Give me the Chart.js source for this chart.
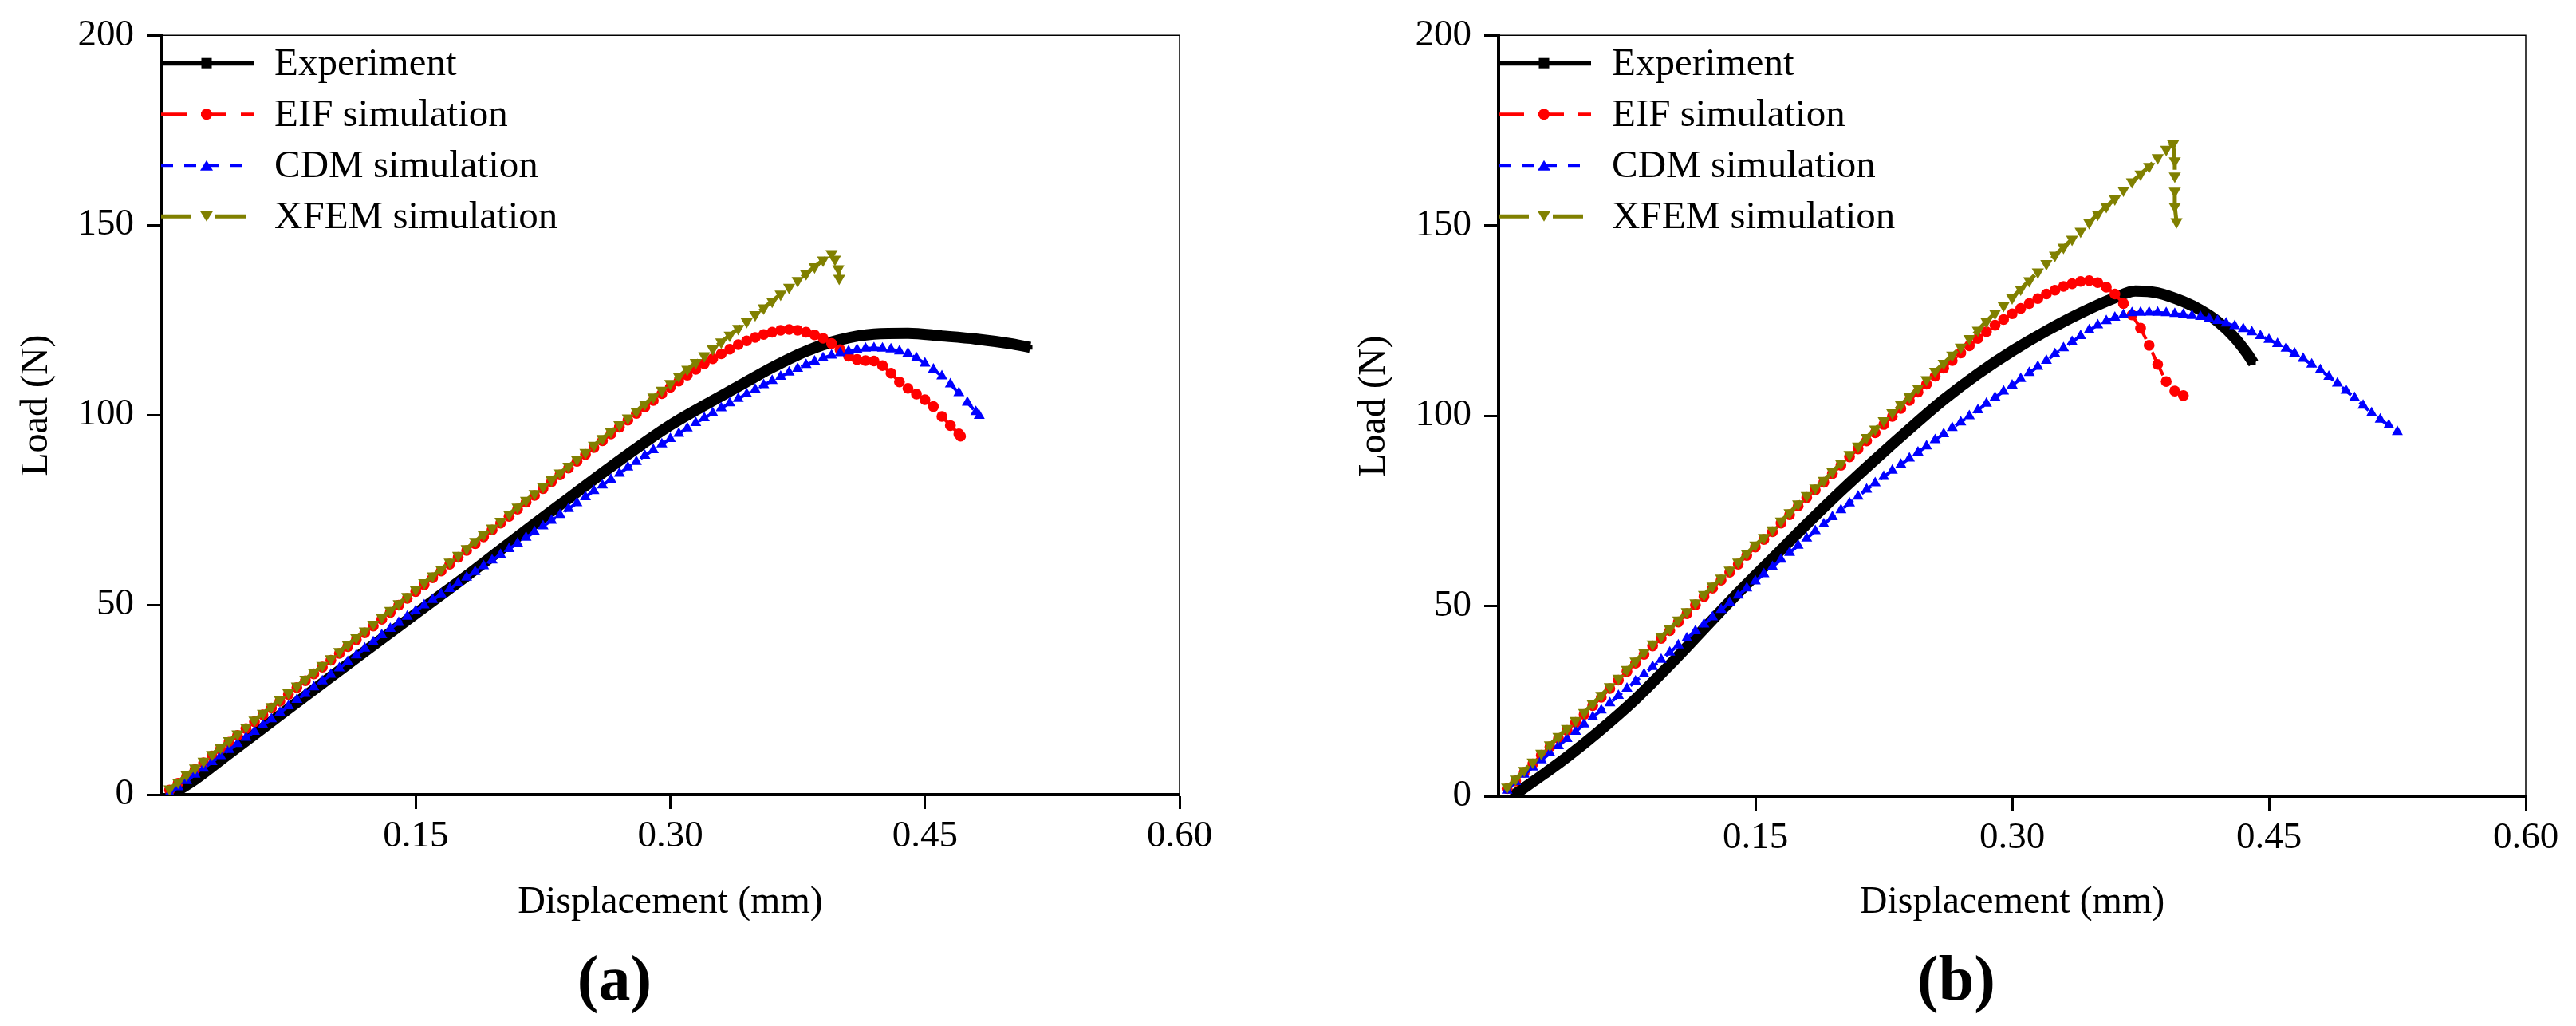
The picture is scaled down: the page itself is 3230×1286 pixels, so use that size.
<!DOCTYPE html>
<html lang="en">
<head>
<meta charset="UTF-8"/>
<title>Load-displacement curves</title>
<script src="https://cdn.jsdelivr.net/npm/chart.js@4.4.1/dist/chart.umd.min.js"></script>
<style>
  body { margin: 0; background: #fff; }
  #wrap { position: relative; width: 3230px; height: 1286px; }
  canvas { position: absolute; top: 0; }
</style>
</head>
<body>
<div id="wrap">
  <canvas id="chartA" width="1615" height="1286" style="left:0px"></canvas>
  <canvas id="chartB" width="1615" height="1286" style="left:1615px"></canvas>
</div>
<script>
// displacement grid the simulation markers sit on (mm)
const dispStep = [
  0.005,0.01,0.015,0.02,0.025,0.03,0.035,0.04,0.045,0.05,
  0.055,0.06,0.065,0.07,0.075,0.08,0.085,0.09,0.095,0.10,
  0.105,0.11,0.115,0.12,0.125,0.13,0.135,0.14,0.145,0.15,
  0.155,0.16,0.165,0.17,0.175,0.18,0.185,0.19,0.195,0.20,
  0.205,0.21,0.215,0.22,0.225,0.23,0.235,0.24,0.245,0.25,
  0.255,0.26,0.265,0.27,0.275,0.28,0.285,0.29,0.295,0.30,
  0.305,0.31,0.315,0.32,0.325,0.33,0.335,0.34,0.345,0.35,
  0.355,0.36,0.365,0.37,0.375,0.38,0.385,0.39,0.395,0.40,
  0.405,0.41,0.415,0.42,0.425,0.43,0.435,0.44,0.445,0.45,
  0.455,0.46,0.465,0.47,0.475,0.48,0.485,0.49,0.495,0.50,
  0.505,0.51,0.515,0.52,0.525];

// ---- panel (a) ----
const dispExpA = [0.006,0.02,0.04,0.06,0.08,0.10,0.12,0.14,0.16,0.18,0.20,0.22,0.24,0.26,0.28,0.30,0.32,0.34,0.36,0.38,0.40,0.42,0.44,0.46,0.48,0.50,0.512];
const loadExpA = [0,4,10.8,17.5,24.3,31,37.7,44.3,51,57.6,64.5,71.3,78,84.7,91.2,97.3,102.5,107.5,112.5,116.8,119.8,121.3,121.5,120.8,120,118.8,117.8];

const dispEifA = dispStep.slice(0, 94).concat([0.471]);
const loadEifA = [
  1.2,3,4.8,6.6,8.4,10.2,12,13.8,15.6,17.4,
  19.2,21,22.8,24.6,26.4,28.2,30,31.8,33.6,35.4,
  37.2,39,40.8,42.6,44.4,46.2,48,49.9,51.7,53.5,
  55.3,57.1,58.9,60.7,62.5,64.3,66.1,67.9,69.7,71.5,
  73.3,75.2,77,78.8,80.6,82.4,84.2,86,87.8,89.6,
  91.4,93.2,95,96.8,98.6,100.4,102.1,103.8,105.6,107.3,
  108.9,110.5,112,113.5,114.8,116.1,117.3,118.5,119.5,120.4,
  121.2,121.8,122.3,122.5,122.3,121.8,121.1,120.2,118.8,117.2,
  115.5,114.6,114.3,114.2,113,111,108.7,107,105.5,104,
  102.2,99.6,97.2,95,
  94.4];

const dispCdmA = dispStep.slice(0, 96).concat([0.482]);
const loadCdmA = [
  0.3,2,3.6,5.3,6.9,8.6,10.2,11.8,13.4,15,
  16.6,18.3,19.9,21.6,23.3,25,26.6,28.3,29.9,31.6,
  33.3,35,36.7,38.5,40.2,42,43.7,45.3,46.9,48.4,
  49.9,51.3,52.8,54.2,55.7,57.2,58.7,60.2,61.7,63.2,
  64.7,66.2,67.7,69.2,70.7,72.2,73.7,75.3,76.8,78.4,
  80,81.5,83,84.6,86.2,87.7,89.3,90.8,92.3,93.7,
  95.1,96.5,97.9,99.2,100.5,101.8,103.1,104.3,105.5,106.7,
  107.9,109,110.1,111.2,112.2,113.2,114.1,115,115.7,116.3,
  116.8,117.2,117.5,117.6,117.5,117.3,116.8,116.2,115,113.6,
  112,110.2,108.1,105.8,103.3,100.8,
  99.8];

const dispXfemA = dispStep.slice(0, 79).concat([0.397,0.399,0.3995]);
const loadXfemA = [
  1.5,3.3,5.2,7,8.8,10.6,12.4,14.2,16,17.8,
  19.6,21.4,23.2,25,26.8,28.6,30.4,32.2,34,35.8,
  37.7,39.5,41.3,43.1,44.9,46.7,48.5,50.3,52.2,54,
  55.8,57.6,59.4,61.2,63,64.8,66.7,68.5,70.2,72,
  73.9,75.7,77.5,79.3,81.1,82.9,84.7,86.5,88.3,90.1,
  92,93.8,95.6,97.4,99.2,101,102.9,104.7,106.5,108.3,
  110.2,112,113.8,115.6,117.4,119.2,121,122.8,124.6,126.4,
  128.2,130,131.8,133.6,135.4,137.2,139,140.8,142.5,
  141,138.5,136];

// ---- panel (b) ----
const dispExpB = [0.008,0.027,0.04,0.058,0.08,0.10,0.12,0.14,0.16,0.18,0.20,0.22,0.24,0.26,0.28,0.30,0.32,0.34,0.36,0.372,0.385,0.40,0.41,0.42,0.43,0.437,0.441];
const loadExpB = [0,6,10.3,16.8,25.5,34.5,44,53.5,62.5,71.5,80.2,88.5,96.5,104.2,111,117,122.3,127,131,132.8,132.3,130,127.8,124.8,120.5,116.5,113.8];

const dispEifB = dispStep.slice(0, 80);
const loadEifB = [
  2,4,6.3,8.5,10.8,13,15.2,17.3,19.4,21.5,
  23.8,26,28.3,30.5,32.8,35,37.3,39.5,41.5,43.5,
  45.8,48,50.3,52.5,54.7,56.8,58.9,61,63.3,65.5,
  67.5,69.5,71.8,74,76.3,78.5,80.5,82.5,84.8,87,
  89.2,91.3,93.4,95.5,97.7,99.8,101.9,104,106.2,108.3,
  110.4,112.5,114.5,116.5,118.4,120.3,122.1,123.8,125.3,126.8,
  128.2,129.5,130.8,132,133,134,134.7,135.3,135.5,135,
  133.8,132,129.5,126.5,123,118.5,113.5,109,106.5,105.3];

const dispCdmB = dispStep.slice(0, 105);
const loadCdmB = [
  1.5,3.8,5.7,7.6,9.5,11.3,13.2,15.1,17,18.9,
  20.8,22.6,24.5,26.4,28.3,30.2,32.1,34,35.9,37.8,
  39.7,41.5,43.4,45.2,47.1,49,50.9,52.8,54.7,56.5,
  58.4,60.3,62.2,64,65.9,67.8,69.7,71.5,73.4,75.2,
  77,78.8,80.6,82.3,84,85.6,87.2,88.8,90.4,92,
  93.6,95.2,96.8,98.3,99.9,101.5,103.2,104.8,106.4,108,
  109.7,111.3,112.9,114.5,116.2,117.8,119.4,121,122.5,123.8,
  124.9,125.8,126.5,127,127.1,127.2,127.1,127,126.8,126.6,
  126.3,126,125.5,125,124.3,123.6,122.8,122,121,120,
  118.9,117.7,116.4,115,113.5,112,110.3,108.5,106.6,104.7,
  102.7,100.7,99,97.5,95.8];

const dispXfemB = dispStep.slice(0, 78).concat([0.394,0.395,0.395,0.395,0.395,0.396]);
const loadXfemB = [
  2.4,4.5,6.8,9,11.3,13.5,15.7,17.8,19.9,22,
  24.3,26.5,28.8,31,33.3,35.5,37.8,40,42,44,
  46.3,48.5,50.8,53,55.2,57.3,59.4,61.5,63.8,66,
  68,70,72.3,74.5,76.8,79,81,83,85.3,87.5,
  89.8,92,94.3,96.5,98.7,100.8,102.9,105,107.3,109.5,
  111.7,113.8,115.9,118,120.3,122.5,124.8,127,129,131,
  133.3,135.5,137.8,140,142.2,144.3,146.4,148.5,150.8,153,
  155,157,159.3,161.5,163.5,165.5,167.8,170,
  171.5,167,163,159,155,151];

const seriesNames = ['Experiment', 'EIF simulation', 'CDM simulation', 'XFEM simulation'];
const yTickValues = [0, 50, 100, 150, 200];
const xTickValues = [0.15, 0.30, 0.45, 0.60];

const serif = '"Liberation Serif", "Times New Roman", serif';
Chart.defaults.font.family = serif;
Chart.defaults.color = '#000';

function toPoints(xs, ys) {
  return xs.map((x, i) => ({ x: x, y: ys[i] }));
}

function drawMarker(ctx, style, rot, x, y, color) {
  ctx.save();
  ctx.fillStyle = color;
  ctx.setLineDash([]);
  ctx.beginPath();
  if (style === 'rect') {
    ctx.rect(x - 6.5, y - 6.5, 13, 13);
  } else if (style === 'circle') {
    ctx.arc(x, y, 7, 0, Math.PI * 2);
  } else {
    const h = 13, w = 16;
    const s = rot === 180 ? -1 : 1;
    ctx.moveTo(x, y - s * h / 2);
    ctx.lineTo(x + w / 2, y + s * h / 2);
    ctx.lineTo(x - w / 2, y + s * h / 2);
    ctx.closePath();
  }
  ctx.fill();
  ctx.restore();
}

// thin top/right frame, y title, legend inside the plot and the (a)/(b) caption
const framePlugin = {
  id: 'framePlugin',
  afterDraw(chart, args, opts) {
    const ctx = chart.ctx;
    const a = chart.chartArea;
    ctx.save();
    ctx.strokeStyle = '#000';
    ctx.lineWidth = 1.5;
    ctx.beginPath();
    ctx.moveTo(a.left, a.top);
    ctx.lineTo(a.right, a.top);
    ctx.lineTo(a.right, a.bottom);
    ctx.stroke();

    chart.data.datasets.forEach((ds, i) => {
      const y = a.top + 35 + 64 * i;
      const x0 = a.left;
      ctx.strokeStyle = ds.borderColor;
      ctx.lineWidth = ds.legendWidth;
      ctx.setLineDash(ds.legendDash);
      ctx.beginPath();
      ctx.moveTo(x0, y);
      ctx.lineTo(x0 + 116, y);
      ctx.stroke();
      drawMarker(ctx, ds.pointStyle, ds.pointRotation, x0 + 57, y, ds.borderColor);
      ctx.setLineDash([]);
      ctx.fillStyle = '#000';
      ctx.font = '49px ' + serif;
      ctx.textAlign = 'left';
      ctx.textBaseline = 'middle';
      ctx.fillText(ds.label, x0 + 142, y + 2);
    });

    ctx.fillStyle = '#000';
    ctx.font = '48px ' + serif;
    ctx.textAlign = 'center';
    ctx.textBaseline = 'middle';
    ctx.save();
    ctx.translate(opts.yTitleX, (a.top + a.bottom) / 2 - 12);
    ctx.rotate(-Math.PI / 2);
    ctx.fillText('Load (N)', 0, 0);
    ctx.restore();

    ctx.font = 'bold 80px ' + serif;
    ctx.textBaseline = 'alphabetic';
    ctx.fillText(opts.caption, (a.left + a.right) / 2 - 70, 1253);
    ctx.restore();
  }
};

function makeDatasets(exp, eif, cdm, xfem) {
  return [
    { label: seriesNames[0], data: exp, borderColor: '#000000', backgroundColor: '#000000',
      borderWidth: 14, pointStyle: 'rect', pointRadius: 4, pointBorderWidth: 0,
      pointBackgroundColor: '#000000', cubicInterpolationMode: 'monotone',
      legendWidth: 6, legendDash: [], order: 3 },
    { label: seriesNames[1], data: eif, borderColor: '#ff0000', backgroundColor: '#ff0000',
      borderWidth: 4, borderDash: [32, 18], pointStyle: 'circle', pointRadius: 6.8,
      pointBorderWidth: 0, pointBackgroundColor: '#ff0000',
      legendWidth: 4, legendDash: [32, 18], order: 2 },
    { label: seriesNames[2], data: cdm, borderColor: '#0000ff', backgroundColor: '#0000ff',
      borderWidth: 4, borderDash: [15, 14], pointStyle: 'triangle', pointRadius: 8,
      pointBorderWidth: 0, pointBackgroundColor: '#0000ff',
      legendWidth: 4, legendDash: [15, 14], order: 1 },
    { label: seriesNames[3], data: xfem, borderColor: '#808000', backgroundColor: '#808000',
      borderWidth: 5, borderDash: [38, 30], pointStyle: 'triangle', pointRotation: 180,
      pointRadius: 8.8, pointBorderWidth: 0, pointBackgroundColor: '#808000',
      legendWidth: 5, legendDash: [38, 30], order: 0 }
  ];
}

function makeOptions(cfg) {
  return {
    responsive: false,
    animation: false,
    devicePixelRatio: 1,
    layout: { padding: { left: 0, top: cfg.top, right: cfg.right, bottom: 0 } },
    plugins: {
      legend: { display: false },
      tooltip: { enabled: false },
      framePlugin: { caption: cfg.caption, yTitleX: cfg.yTitleX }
    },
    scales: {
      x: {
        type: 'linear', min: 0, max: 0.6,
        afterBuildTicks: s => { s.ticks = xTickValues.map(v => ({ value: v })); },
        afterFit: s => { s.height = cfg.xHeight; },
        border: { display: true, color: '#000', width: 4 },
        grid: { display: true, drawOnChartArea: false, drawTicks: true, tickLength: 18,
                tickWidth: 3, tickColor: '#000', color: '#000' },
        ticks: { padding: 6, maxRotation: 0, font: { size: 47 },
                 callback: v => v.toFixed(2) },
        title: { display: true, text: 'Displacement (mm)', font: { size: 48 },
                 padding: { top: 0, bottom: 126 } }
      },
      y: {
        type: 'linear', min: 0, max: 200,
        afterBuildTicks: s => { s.ticks = yTickValues.map(v => ({ value: v })); },
        afterFit: s => { s.width = cfg.yWidth; },
        border: { display: true, color: '#000', width: 4 },
        grid: { display: true, drawOnChartArea: false, drawTicks: true, tickLength: 18,
                tickWidth: 3, tickColor: '#000', color: '#000' },
        ticks: { padding: 16, font: { size: 47 } },
        title: { display: false }
      }
    }
  };
}

new Chart(document.getElementById('chartA'), {
  type: 'line',
  data: { datasets: makeDatasets(
    toPoints(dispExpA, loadExpA), toPoints(dispEifA, loadEifA),
    toPoints(dispCdmA, loadCdmA), toPoints(dispXfemA, loadXfemA)) },
  options: makeOptions({ top: 44, right: 136, yWidth: 202, xHeight: 290, yTitleX: 46, caption: '(a)' }),
  plugins: [framePlugin]
});

new Chart(document.getElementById('chartB'), {
  type: 'line',
  data: { datasets: makeDatasets(
    toPoints(dispExpB, loadExpB), toPoints(dispEifB, loadEifB),
    toPoints(dispCdmB, loadCdmB), toPoints(dispXfemB, loadXfemB)) },
  options: makeOptions({ top: 39, right: 63, yWidth: 264, xHeight: 288, yTitleX: 108, caption: '(b)' }),
  plugins: [framePlugin]
});
</script>
</body>
</html>
